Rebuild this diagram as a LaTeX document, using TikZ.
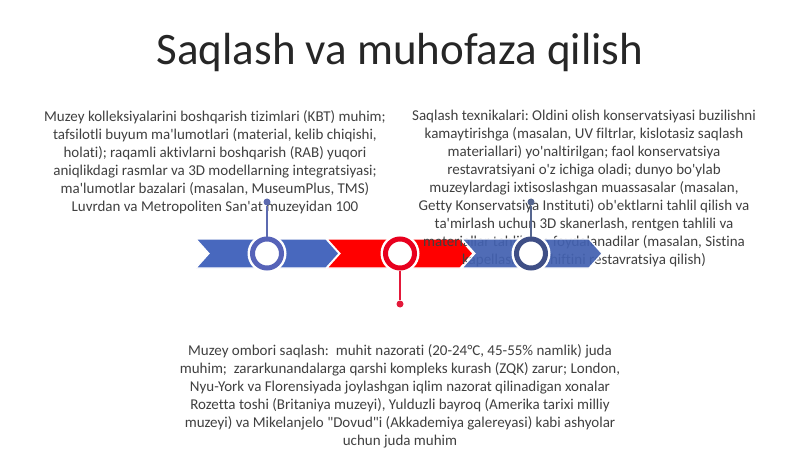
\documentclass[tikz,border=0pt]{standalone}
\usepackage{fontspec}
\setmainfont{Carlito}[Ligatures={TeXOff,NoCommon}]
\frenchspacing
\definecolor{txt}{HTML}{404040}
\definecolor{titlec}{HTML}{262626}
\definecolor{blueA}{HTML}{4868BE}
\definecolor{blueB}{HTML}{4361B0}
\definecolor{redA}{HTML}{FF0000}
\definecolor{ringA}{HTML}{5663B8}
\definecolor{ringB}{HTML}{E8001E}
\definecolor{ringC}{HTML}{3F4F86}
\definecolor{lineA}{HTML}{5C6AB0}
\definecolor{lineB}{HTML}{E3193A}
\definecolor{lineC}{HTML}{56668F}
\tikzset{
  body/.style={font=\fontsize{15}{18}\selectfont, text=txt, align=center, inner sep=0pt, anchor=north},
  ringnode/.style={circle, minimum size=29pt, inner sep=0pt, line width=5pt, fill=white},
  ringback/.style={circle, minimum size=39pt, inner sep=0pt, fill=white},
  dotnode/.style={circle, minimum size=7pt, inner sep=0pt},
  conn/.style={line width=1.6pt},
  chev/.style={draw=white, line width=1.2pt}
}
\begin{document}
\begin{tikzpicture}[x=1pt,y=-1pt]
\useasboundingbox (0,0) rectangle (800,449);
% title
\node[font=\fontsize{45}{54}\selectfont, text=titlec, anchor=base, inner sep=0pt] (title) at (400,65) {Saqlash va muhofaza qilish};
% chevrons 1 and 2
\fill[blueA,chev] (196,239) -- (326,239) -- (339,253.5) -- (326,268) -- (196,268) -- (209,253.5) -- cycle;
\fill[redA,chev] (327,239) -- (460,239) -- (473,253.5) -- (460,268) -- (327,268) -- (340,253.5) -- cycle;
% texts
\node[body] (t1) at (215,110) {Muzey kolleksiyalarini boshqarish tizimlari (KBT) muhim;\\
tafsilotli buyum ma'lumotlari (material, kelib chiqishi,\\
holati); raqamli aktivlarni boshqarish (RAB) yuqori\\
aniqlikdagi rasmlar va 3D modellarning integratsiyasi;\\
ma'lumotlar bazalari (masalan, MuseumPlus, TMS)\\
Luvrdan va Metropoliten San'at muzeyidan 100};
\node[body] (t3) at (584,110) {Saqlash texnikalari: Oldini olish konservatsiyasi buzilishni\\
kamaytirishga (masalan, UV filtrlar, kislotasiz saqlash\\
materiallari) yo'naltirilgan; faol konservatsiya\\
restavratsiyani o'z ichiga oladi; dunyo bo'ylab\\
muzeylardagi ixtisoslashgan muassasalar (masalan,\\
Getty Konservatsiya Instituti) ob'ektlarni tahlil qilish va\\
ta'mirlash uchun 3D skanerlash, rentgen tahlili va\\
materiallar tahlilidan foydalanadilar (masalan, Sistina\\
kapellasining shiftini restavratsiya qilish)};
\node[body] (t2) at (400,344) {Muzey ombori saqlash:\ \ muhit nazorati (20-24°C, 45-55\% namlik) juda\\
muhim;\ \ zararkunandalarga qarshi kompleks kurash (ZQK) zarur; London,\\
Nyu-York va Florensiyada joylashgan iqlim nazorat qilinadigan xonalar\\
Rozetta toshi (Britaniya muzeyi), Yulduzli bayroq (Amerika tarixi milliy\\
muzeyi) va Mikelanjelo "Dovud"i (Akkademiya galereyasi) kabi ashyolar\\
uchun juda muhim};
% chevron 3
\fill[blueB,chev,fill opacity=0.93] (462,239) -- (589,239) -- (602,253.5) -- (589,268) -- (462,268) -- (475,253.5) -- cycle;
% rings
\node[ringback] (b1) at (267,253.5) {};
\node[ringback] (b2) at (400,253.5) {};
\node[ringback] (b3) at (531,253.5) {};
\node[ringnode, draw=ringA] (r1) at (267,253.5) {};
\node[ringnode, draw=ringB] (r2) at (400,253.5) {};
\node[ringnode, draw=ringC] (r3) at (531,253.5) {};
% dots
\node[dotnode, fill=lineA] (d1) at (267,202) {};
\node[dotnode, fill=lineB] (d2) at (400,304) {};
\node[dotnode, fill=lineC] (d3) at (531,202) {};
\draw[conn, lineA] (r1.north) -- (d1);
\draw[conn, lineB] (r2.south) -- (d2);
\draw[conn, lineC] (r3.north) -- (d3);
\end{tikzpicture}
\end{document}
